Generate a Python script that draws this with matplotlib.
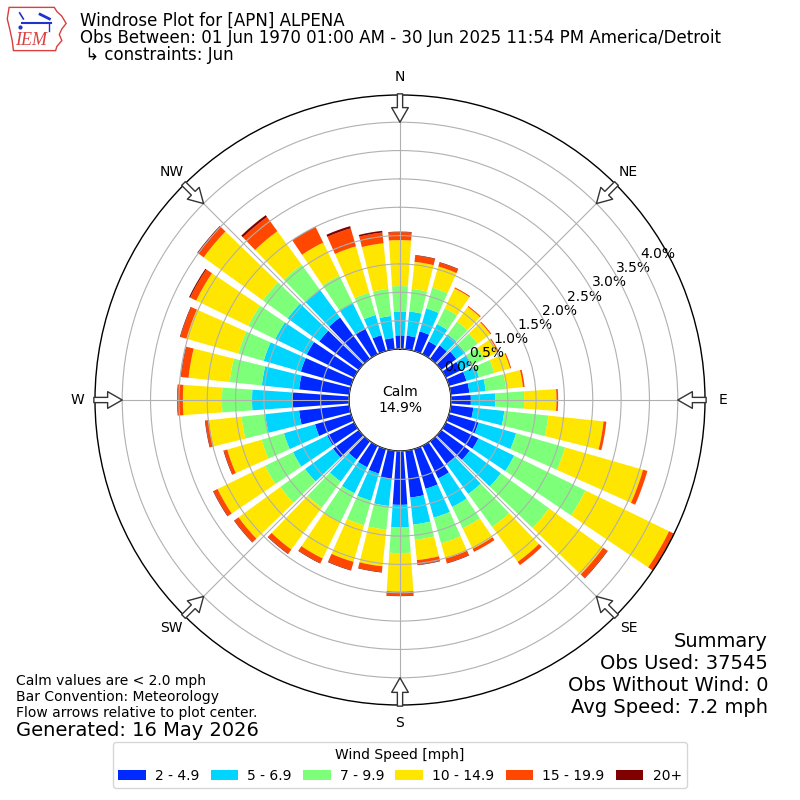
import numpy as np
import matplotlib
matplotlib.use("Agg")
import matplotlib.pyplot as plt
from matplotlib.patches import Polygon

# ---------------- data ----------------
directions = np.arange(0, 360, 10)  # degrees, meteorological
speed_labels = ["2 - 4.9", "5 - 6.9", "7 - 9.9", "10 - 14.9", "15 - 19.9", "20+"]
dir_labels = ["N", "NE", "E", "SE", "S", "SW", "W", "NW"]

# percent frequency per speed bin for each direction (0,10,...,350)
bin_2_5 = [0.24, 0.24, 0.36, 0.25, 0.29, 0.33, 0.30, 0.32, 0.33, 0.35, 0.40, 0.54,
           0.64, 0.62, 0.50, 0.64, 0.73, 0.83, 0.95, 0.50, 0.45, 0.42, 0.40, 0.56,
           0.53, 0.66, 0.89, 0.99, 0.89, 0.92, 0.93, 0.86, 0.90, 0.51, 0.29, 0.20]
bin_5_7 = [0.42, 0.43, 0.42, 0.34, 0.24, 0.19, 0.20, 0.23, 0.29, 0.43, 0.55, 0.69,
           0.70, 0.68, 0.65, 0.56, 0.53, 0.48, 0.40, 0.48, 0.50, 0.51, 0.48, 0.61,
           0.67, 0.57, 0.60, 0.72, 0.66, 0.68, 0.62, 0.69, 0.60, 0.49, 0.37, 0.39]
bin_7_10 = [0.45, 0.40, 0.38, 0.31, 0.28, 0.27, 0.25, 0.28, 0.36, 0.51, 0.78, 0.90,
            1.40, 1.05, 0.72, 0.42, 0.47, 0.27, 0.45, 0.42, 0.45, 0.57, 0.57, 0.54,
            0.55, 0.41, 0.42, 0.53, 0.57, 0.47, 0.53, 0.54, 0.55, 0.54, 0.41, 0.48]
bin_10_15 = [0.81, 0.48, 0.39, 0.39, 0.32, 0.28, 0.27, 0.29, 0.30, 0.57, 0.98, 1.43,
             1.64, 1.18, 0.76, 0.40, 0.28, 0.36, 0.68, 0.65, 0.67, 0.71, 0.91, 0.91,
             0.93, 0.63, 0.58, 0.69, 0.73, 0.95, 1.02, 1.29, 0.73, 0.65, 0.85, 0.81]
bin_15_20 = [0.14, 0.11, 0.07, 0.02, 0.02, 0.02, 0.02, 0.02, 0.03, 0.03, 0.05, 0.08,
             0.09, 0.09, 0.07, 0.06, 0.08, 0.08, 0.07, 0.10, 0.15, 0.09, 0.09, 0.09,
             0.08, 0.06, 0.06, 0.09, 0.13, 0.11, 0.12, 0.12, 0.31, 0.30, 0.33, 0.19]
bin_20p = [0.01, 0.01, 0.01, 0.00, 0.00, 0.00, 0.00, 0.00, 0.00, 0.00, 0.00, 0.00,
           0.01, 0.01, 0.00, 0.00, 0.01, 0.01, 0.01, 0.01, 0.01, 0.01, 0.01, 0.01,
           0.01, 0.01, 0.01, 0.01, 0.01, 0.01, 0.02, 0.02, 0.04, 0.01, 0.04, 0.03]
bins = [bin_2_5, bin_5_7, bin_7_10, bin_10_15, bin_15_20, bin_20p]

radial_ticks = [0.0, 0.5, 1.0, 1.5, 2.0, 2.5, 3.0, 3.5, 4.0]
calm_pct = 14.9
r_max = 4.48
r_origin = -0.90

# ---------------- figure ----------------
fig = plt.figure(figsize=(8, 8), dpi=100)
ax = fig.add_axes([95 / 800, 95 / 800, 610 / 800, 610 / 800], projection="polar")
ax.set_theta_zero_location("N")
ax.set_theta_direction(-1)

colors = plt.cm.jet(np.linspace(0, 1, 7)[1:])
theta = np.deg2rad(directions)
width = np.deg2rad(10) * 0.8
bottom = np.zeros(len(directions))
handles = []
for vals, col, lab in zip(bins, colors, speed_labels):
    vals = np.asarray(vals)
    h = ax.bar(theta, vals, width=width, bottom=bottom, color=col,
               edgecolor="none", label=lab, zorder=1)
    handles.append(h)
    bottom = bottom + vals

ax.set_rorigin(r_origin)
ax.set_ylim(0, r_max)
ax.set_axisbelow(False)
ax.set_rgrids(radial_ticks, labels=[f"{v:.1f}%" for v in radial_ticks],
              angle=60, fontsize=10)
ax.set_thetagrids(np.arange(0, 360, 45), dir_labels, fontsize=10)
ax.tick_params(axis="x", pad=2.5)
ax.grid(True, color="#b0b0b0", linewidth=0.8)
for name in ("polar", "inner"):
    if name in ax.spines:
        ax.spines[name].set_linewidth(1.0)
        ax.spines[name].set_color("black")

# flow arrows
for ang in np.arange(0, 360, 45):
    t = np.deg2rad(ang)
    ax.annotate("", xy=(t, 4.0), xytext=(t, 4.50), xycoords="data",
                arrowprops=dict(arrowstyle="simple,head_length=1.05,head_width=1.2,tail_width=0.38",
                                fc="white", ec="#333333", lw=1.0,
                                shrinkA=0, shrinkB=0, mutation_scale=10),
                annotation_clip=False, zorder=5)

ax.text(0.5, 0.5, f"Calm\n{calm_pct:.1f}%", transform=ax.transAxes,
        ha="center", va="center", fontsize=10, zorder=6)

# ---------------- texts ----------------
fig.text(80 / 800, 1 - 26 / 800, "Windrose Plot for [APN] ALPENA", fontsize=12,
         va="baseline", ha="left")
fig.text(80 / 800, 1 - 43 / 800,
         "Obs Between: 01 Jun 1970 01:00 AM - 30 Jun 2025 11:54 PM America/Detroit",
         fontsize=12, va="baseline", ha="left")
fig.text(80 / 800, 1 - 60 / 800, " \u21b3 constraints: Jun", fontsize=12,
         va="baseline", ha="left")

fig.text(16 / 800, 1 - 685 / 800, "Calm values are < 2.0 mph", fontsize=10, va="baseline")
fig.text(16 / 800, 1 - 701 / 800, "Bar Convention: Meteorology", fontsize=10, va="baseline")
fig.text(16 / 800, 1 - 717 / 800, "Flow arrows relative to plot center.", fontsize=10, va="baseline")
fig.text(16 / 800, 1 - 736 / 800, "Generated: 16 May 2026", fontsize=14, va="baseline")

summary = ["Summary", "Obs Used: 37545", "Obs Without Wind: 0", "Avg Speed: 7.2 mph"]
for i, line in enumerate(summary):
    fig.text(768 / 800, 1 - (647 + 22 * i) / 800, line, fontsize=14,
             ha="right", va="baseline")

leg = fig.legend(handles=handles, labels=speed_labels, loc="lower center",
                 bbox_to_anchor=(0.5, 5 / 800), ncol=6, fontsize=10,
                 title="Wind Speed [mph]", title_fontsize=10, frameon=True,
                 columnspacing=0.8, handletextpad=0.65)

# ---------------- logo ----------------
lax = fig.add_axes([6 / 800, 1 - 52 / 800, 62 / 800, 46 / 800])
lax.set_xlim(0, 1)
lax.set_ylim(0, 1)
lax.axis("off")
iowa = [(0.05, 0.97), (0.78, 0.97), (0.82, 0.88), (0.90, 0.78), (0.97, 0.62),
        (0.90, 0.50), (0.86, 0.38), (0.90, 0.25), (0.82, 0.12), (0.80, 0.03),
        (0.12, 0.03), (0.10, 0.25), (0.06, 0.50), (0.02, 0.72), (0.05, 0.97)]
lax.add_patch(Polygon(iowa, closed=True, fill=False, ec="#d8403f", lw=1.0))
lax.plot([0.25, 0.72], [0.62, 0.62], color="#2233cc", lw=1.5)
lax.plot([0.22, 0.28], [0.85, 0.72], color="#2233cc", lw=1.2)
lax.plot([0.55, 0.70], [0.82, 0.72], color="#2233cc", lw=2.0)
lax.plot([0.70, 0.70], [0.62, 0.45], color="#2233cc", lw=1.0)
lax.plot([0.22], [0.55], "o", color="#2233cc", ms=2)
lax.text(0.15, 0.06, "IEM", color="#d8403f", fontsize=13, style="italic",
         family=["Liberation Serif", "DejaVu Serif"], ha="left", va="bottom")

fig.savefig("out.png", dpi=100)
